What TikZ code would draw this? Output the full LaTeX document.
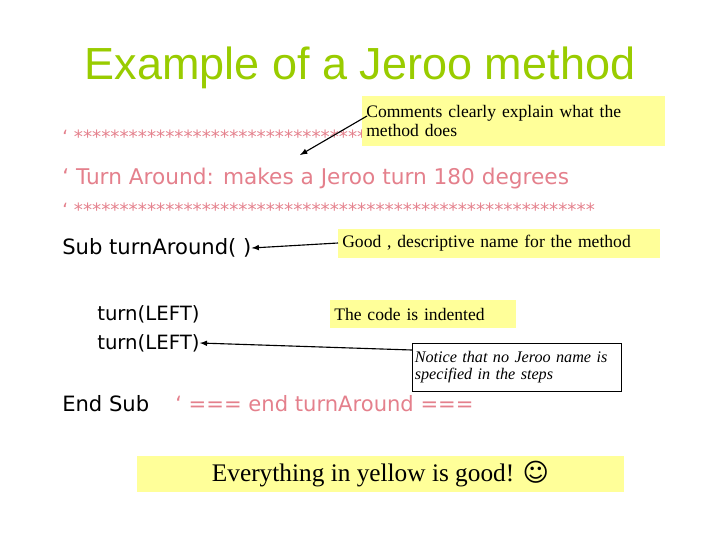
\documentclass[tikz,border=0pt]{standalone}
\usepackage{fontspec}
\setmainfont{Liberation Serif}
\newfontfamily\titlefont{Liberation Sans}
\newfontfamily\codefont{DejaVu Sans}
\newfontfamily\symfont{DejaVu Sans}
\usetikzlibrary{positioning}
\definecolor{titlegreen}{RGB}{153,204,0}
\definecolor{commentpink}{RGB}{228,128,140}
\definecolor{noteyellow}{RGB}{255,255,153}
\tikzset{>=latex}
\tikzset{
  code/.style={anchor=west,inner sep=0pt,font=\codefont\fontsize{14}{16}\selectfont},
  comment/.style={code,text=commentpink},
  note/.style={fill=noteyellow,anchor=north west,align=left,inner sep=2pt,font=\fontsize{12.5}{13.5}\selectfont},
}
\newcommand{\starrow}{‘ *********************************************************}

\begin{document}
\begin{tikzpicture}[x=0.025cm,y=-0.025cm]
\useasboundingbox (0,0) rectangle (720,540);
\node (title) at (360,68) {\titlefont\fontsize{32}{34}\selectfont\color{titlegreen}Example of a Jeroo method};

\node[comment,font=\codefont\fontsize{13}{14}\selectfont] (stars1) at (62,137) {\starrow};
\node[comment,font=\codefont\fontsize{15.4}{17}\selectfont] (heading) at (62,179) {‘ Turn Around: makes a Jeroo turn 180 degrees};
\node[comment,font=\codefont\fontsize{13}{14}\selectfont] (stars2) at (62,210) {\starrow};

\node[code,font=\codefont\fontsize{15}{17}\selectfont] (sub) at (62,248) {Sub turnAround( )};
\node[code] (turn1) at (97,314) {turn(LEFT)};
\node[code] (turn2) at (97,343) {turn(LEFT)};
\node[code,font=\codefont\fontsize{15}{17}\selectfont] (endsub) at (62,404) {End Sub};
\node[comment,font=\codefont\fontsize{15}{17}\selectfont] (endcomment) at (175,404) {‘ === end turnAround ===};

% notes
\node[note,minimum width=303*0.025cm,minimum height=50*0.025cm,text width=295*0.025cm] (commentsnote) at (362,96)
  {Comments clearly explain what the method does};
\node[note,minimum width=322*0.025cm,minimum height=29*0.025cm,text width=314*0.025cm,anchor=west] (namenote) at (338,243)
  {Good , descriptive name for the method};
\node[note,minimum width=186*0.025cm,minimum height=28*0.025cm,text width=178*0.025cm,anchor=west] (indentnote) at (330,314)
  {The code is indented};
\node[note,fill=white,draw,anchor=north west,minimum width=209*0.025cm,minimum height=48*0.025cm,text width=204*0.025cm,
  inner sep=1pt,font=\itshape\fontsize{11.5}{12.5}\selectfont] (stepsnote) at (412,343)
  {Notice that no Jeroo name is specified in the steps};
\node[note,minimum width=487*0.025cm,minimum height=36*0.025cm,anchor=center,
  font=\fontsize{18}{20}\selectfont] (yellownote) at (380.5,474)
  {Everything in yellow is good! {\symfont ☺}};

\draw[->,thick] (commentsnote.north west) ++(5,20) -- (300,155);
\draw[->,thick] (namenote.west) -- (sub.east);
\draw[->,thick] (stepsnote.north west) ++(0,7) -- (turn2.east);
\end{tikzpicture}
\end{document}
